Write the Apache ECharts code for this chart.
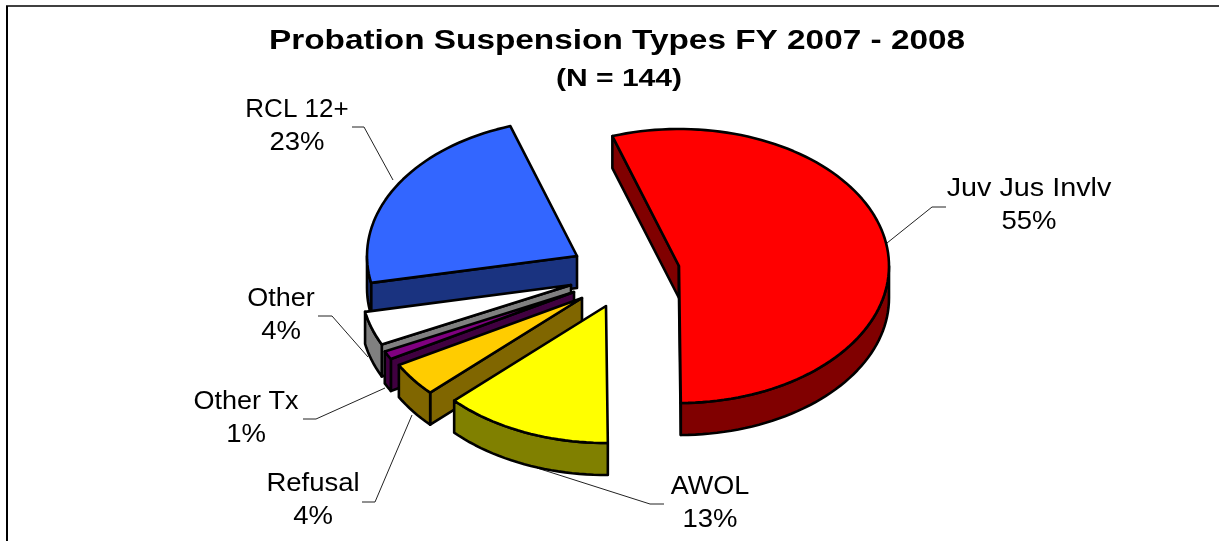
<!DOCTYPE html>
<html>
<head>
<meta charset="utf-8">
<style>html,body{margin:0;padding:0;background:#fff}#c{width:1219px;height:541px}</style>
<script src="https://cdn.jsdelivr.net/npm/echarts@6/dist/echarts.min.js"></script>
</head>
<body>
<div id="c"></div>
<script>
// --- data, clockwise from the red slice ---
const categories = ['Juv Jus Invlv', 'AWOL', 'Refusal', 'Other Tx', 'Other', 'RCL 12+'];
const percents = [55, 13, 4, 1, 4, 23];
const titleLines = ['Probation Suspension Types FY 2007 - 2008', '(N = 144)'];

// --- styling and layout ---
const topColors = ['#FF0000', '#FFFF00', '#FFCC00', '#800080', '#FFFFFF', '#3366FF'];
const wallColors = ['#800000', '#808000', '#806600', '#400040', '#808080', '#1A3380'];
const apexes = [[679, 266], [606, 306], [582, 298], [574, 292], [571, 285], [577, 256]];
const labelPos = [[1029, 189], [710, 487], [313, 484], [246, 402], [281, 299], [297, 110]];
const labelStretch = [1.15, 1.08, 1.1, 1.08, 1.08, 1.04];
const leaders = [
  [[946, 207], [932, 207], [887, 243]],
  [[664, 504], [650, 504], [537, 468]],
  [[362, 502], [375, 502], [412, 415]],
  [[303, 419], [316, 419], [385, 388]],
  [[318, 316], [332, 316], [368, 357]],
  [[352, 127], [364, 127], [393, 180]]
];
const RX = 210, RY = 137, DEPTH = 32, START_DEG = -18.5;
const FONT = '"Liberation Sans", Arial, sans-serif';

const total = percents.reduce((a, b) => a + b, 0);
const toRad = d => d * Math.PI / 180;

function sliceAngles(i) {
  let before = 0;
  for (let k = 0; k < i; k++) before += percents[k];
  return [START_DEG + before / total * 360, START_DEG + (before + percents[i]) / total * 360];
}
function rim(apex, deg) {
  return [apex[0] + RX * Math.sin(toRad(deg)), apex[1] - RY * Math.cos(toRad(deg))];
}
function arc(apex, a, b) {
  const pts = [];
  const n = Math.max(2, Math.ceil((b - a) / 2));
  for (let j = 0; j <= n; j++) pts.push(rim(apex, a + (b - a) * j / n));
  return pts;
}
const down = p => [p[0], p[1] + DEPTH];
const edgeStyle = { stroke: '#000', lineWidth: 2.6, lineJoin: 'round' };
function poly(points, fill) {
  return { type: 'polygon', silent: true, shape: { points }, style: Object.assign({ fill }, edgeStyle) };
}

function renderSlice(params, api) {
  const i = api.value(0);
  const apex = apexes[i];
  const [a, b] = sliceAngles(i);
  const kids = [];
  const wall = wallColors[i];
  // cut faces turned towards the viewer
  if (-Math.sin(toRad(a)) > 0) {
    const r = rim(apex, a);
    kids.push(poly([apex, r, down(r), down(apex)], wall));
  }
  if (Math.sin(toRad(b)) > 0) {
    const r = rim(apex, b);
    kids.push(poly([apex, r, down(r), down(apex)], wall));
  }
  // outer wall: the part of the rim on the near side of the ellipse
  const wa = Math.max(a, 90), wb = Math.min(b, 270);
  if (wb > wa) {
    const top = arc(apex, wa, wb);
    kids.push(poly(top.concat(top.slice().reverse().map(down)), wall));
  }
  kids.push(poly([apex].concat(arc(apex, a, b)), topColors[i]));
  return { type: 'group', children: kids };
}

function textEl(x, y, text, size, weight, stretch) {
  return {
    type: 'text', silent: true, x, y, scaleX: stretch,
    style: { text, fill: '#000', align: 'center', verticalAlign: 'middle',
      font: weight + ' ' + size + 'px ' + FONT }
  };
}
function renderLabel(params, api) {
  const i = api.value(0);
  const [x, y] = labelPos[i];
  return {
    type: 'group',
    children: [
      { type: 'polyline', silent: true, shape: { points: leaders[i] },
        style: { stroke: '#222', lineWidth: 1, fill: null } },
      textEl(x, y, categories[i], 25, 'normal', labelStretch[i]),
      textEl(x, y + 33, percents[i] + '%', 25, 'normal', 1.1)
    ]
  };
}

const order = categories.map((_, i) => i);
const chart = echarts.init(document.getElementById('c'), null, { renderer: 'canvas' });
chart.setOption({
  animation: false,
  backgroundColor: '#fff',
  tooltip: { show: false },
  graphic: [
    { type: 'line', silent: true, shape: { x1: 6, y1: 6, x2: 1219, y2: 6 }, style: { stroke: '#404040', lineWidth: 2 } },
    { type: 'line', silent: true, shape: { x1: 7, y1: 6, x2: 7, y2: 541 }, style: { stroke: '#000', lineWidth: 2 } },
    textEl(617, 42, titleLines[0], 27, 'bold', 1.235),
    textEl(619, 79, titleLines[1], 24, 'bold', 1.25)
  ],
  series: [
    { type: 'custom', name: 'labels', coordinateSystem: 'none', z: 1, renderItem: renderLabel,
      data: order.map(i => [i, percents[i]]) },
    { type: 'custom', name: 'slices', coordinateSystem: 'none', z: 2, renderItem: renderSlice,
      data: order.slice().reverse().map(i => [i, percents[i]]) }
  ]
});
</script>
</body>
</html>
